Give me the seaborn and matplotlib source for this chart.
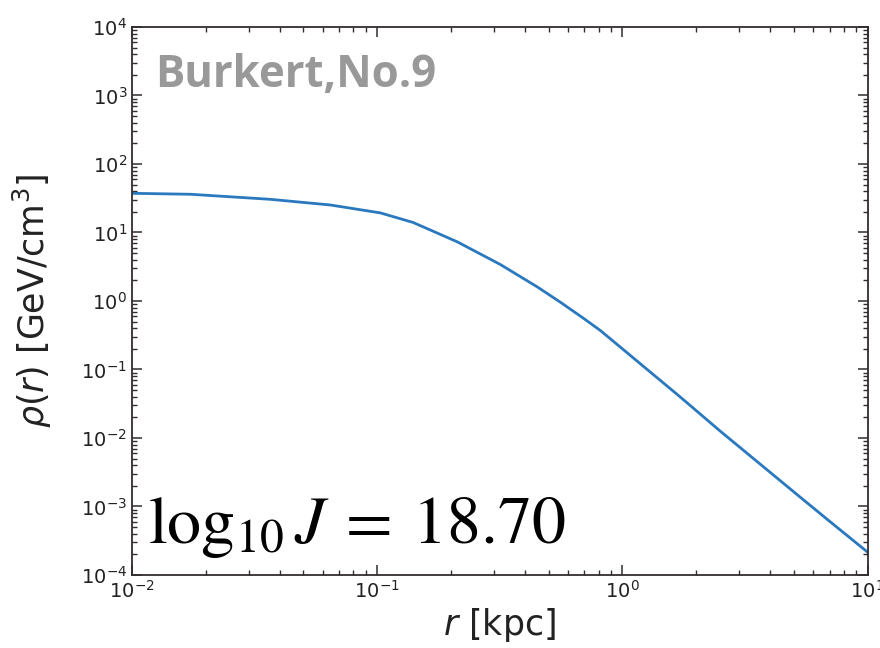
import numpy as np
import pandas as pd
import seaborn as sns
import matplotlib.pyplot as plt

# values (r in kpc, rho in GeV/cm^3)
r_kpc = [0.01, 0.0173, 0.0365, 0.0643, 0.103, 0.140, 0.212, 0.318, 0.450,
         0.558, 0.693, 0.813, 1.18, 1.73, 2.51, 3.66, 5.33, 6.87, 10.0]
rho = [37.3, 36.1, 30.5, 25.2, 19.3, 14.0, 7.3, 3.4, 1.60,
       0.96, 0.56, 0.37, 0.122, 0.039, 0.0125, 0.0041, 0.00135, 0.00064, 0.000215]

profile = pd.DataFrame({'r': r_kpc, 'rho': rho})

sns.set_style("ticks")
plt.rcParams['font.family'] = ['DejaVu Sans']
plt.rcParams['mathtext.fontset'] = 'dejavusans'

fig = plt.figure(figsize=(8.8, 6.48), dpi=100)
ax = fig.add_axes([0.15, 0.1127, 0.836, 0.8457])

sns.lineplot(data=profile, x='r', y='rho', ax=ax, color='#2a78bd', linewidth=2.0)

ax.set_xscale('log')
ax.set_yscale('log')
ax.set_xlim(1e-2, 1e1)
ax.set_ylim(1e-4, 1e4)

ax.tick_params(which='both', direction='in', top=True, right=True,
               color='#332c2c', labelsize=14, labelcolor='#222222')
ax.tick_params(which='major', length=7, width=1.1)
ax.tick_params(which='minor', length=3.5, width=1.0)
for s in ax.spines.values():
    s.set_color('#332c2c')
    s.set_linewidth(1.3)

ax.set_xlabel(r'$r$ [kpc]', fontsize=25, color='#222222')
ax.set_ylabel(r'$\rho(r)$ [GeV/cm$^3$]', fontsize=25, color='#222222')
ax.xaxis.set_label_coords(0.5, -0.056)
ax.yaxis.set_label_coords(-0.106, 0.5)

ax.text(0.031, 0.89, 'Burkert,No.9', transform=ax.transAxes,
        fontsize=31.5, fontweight='bold', color='#999999', family='Open Sans')
ax.text(0.022, 0.058, r'$\log_{10}J\:=\:18.70$', transform=ax.transAxes,
        fontsize=49, color='black', math_fontfamily='stix')

fig.savefig('out.png', dpi=100)
